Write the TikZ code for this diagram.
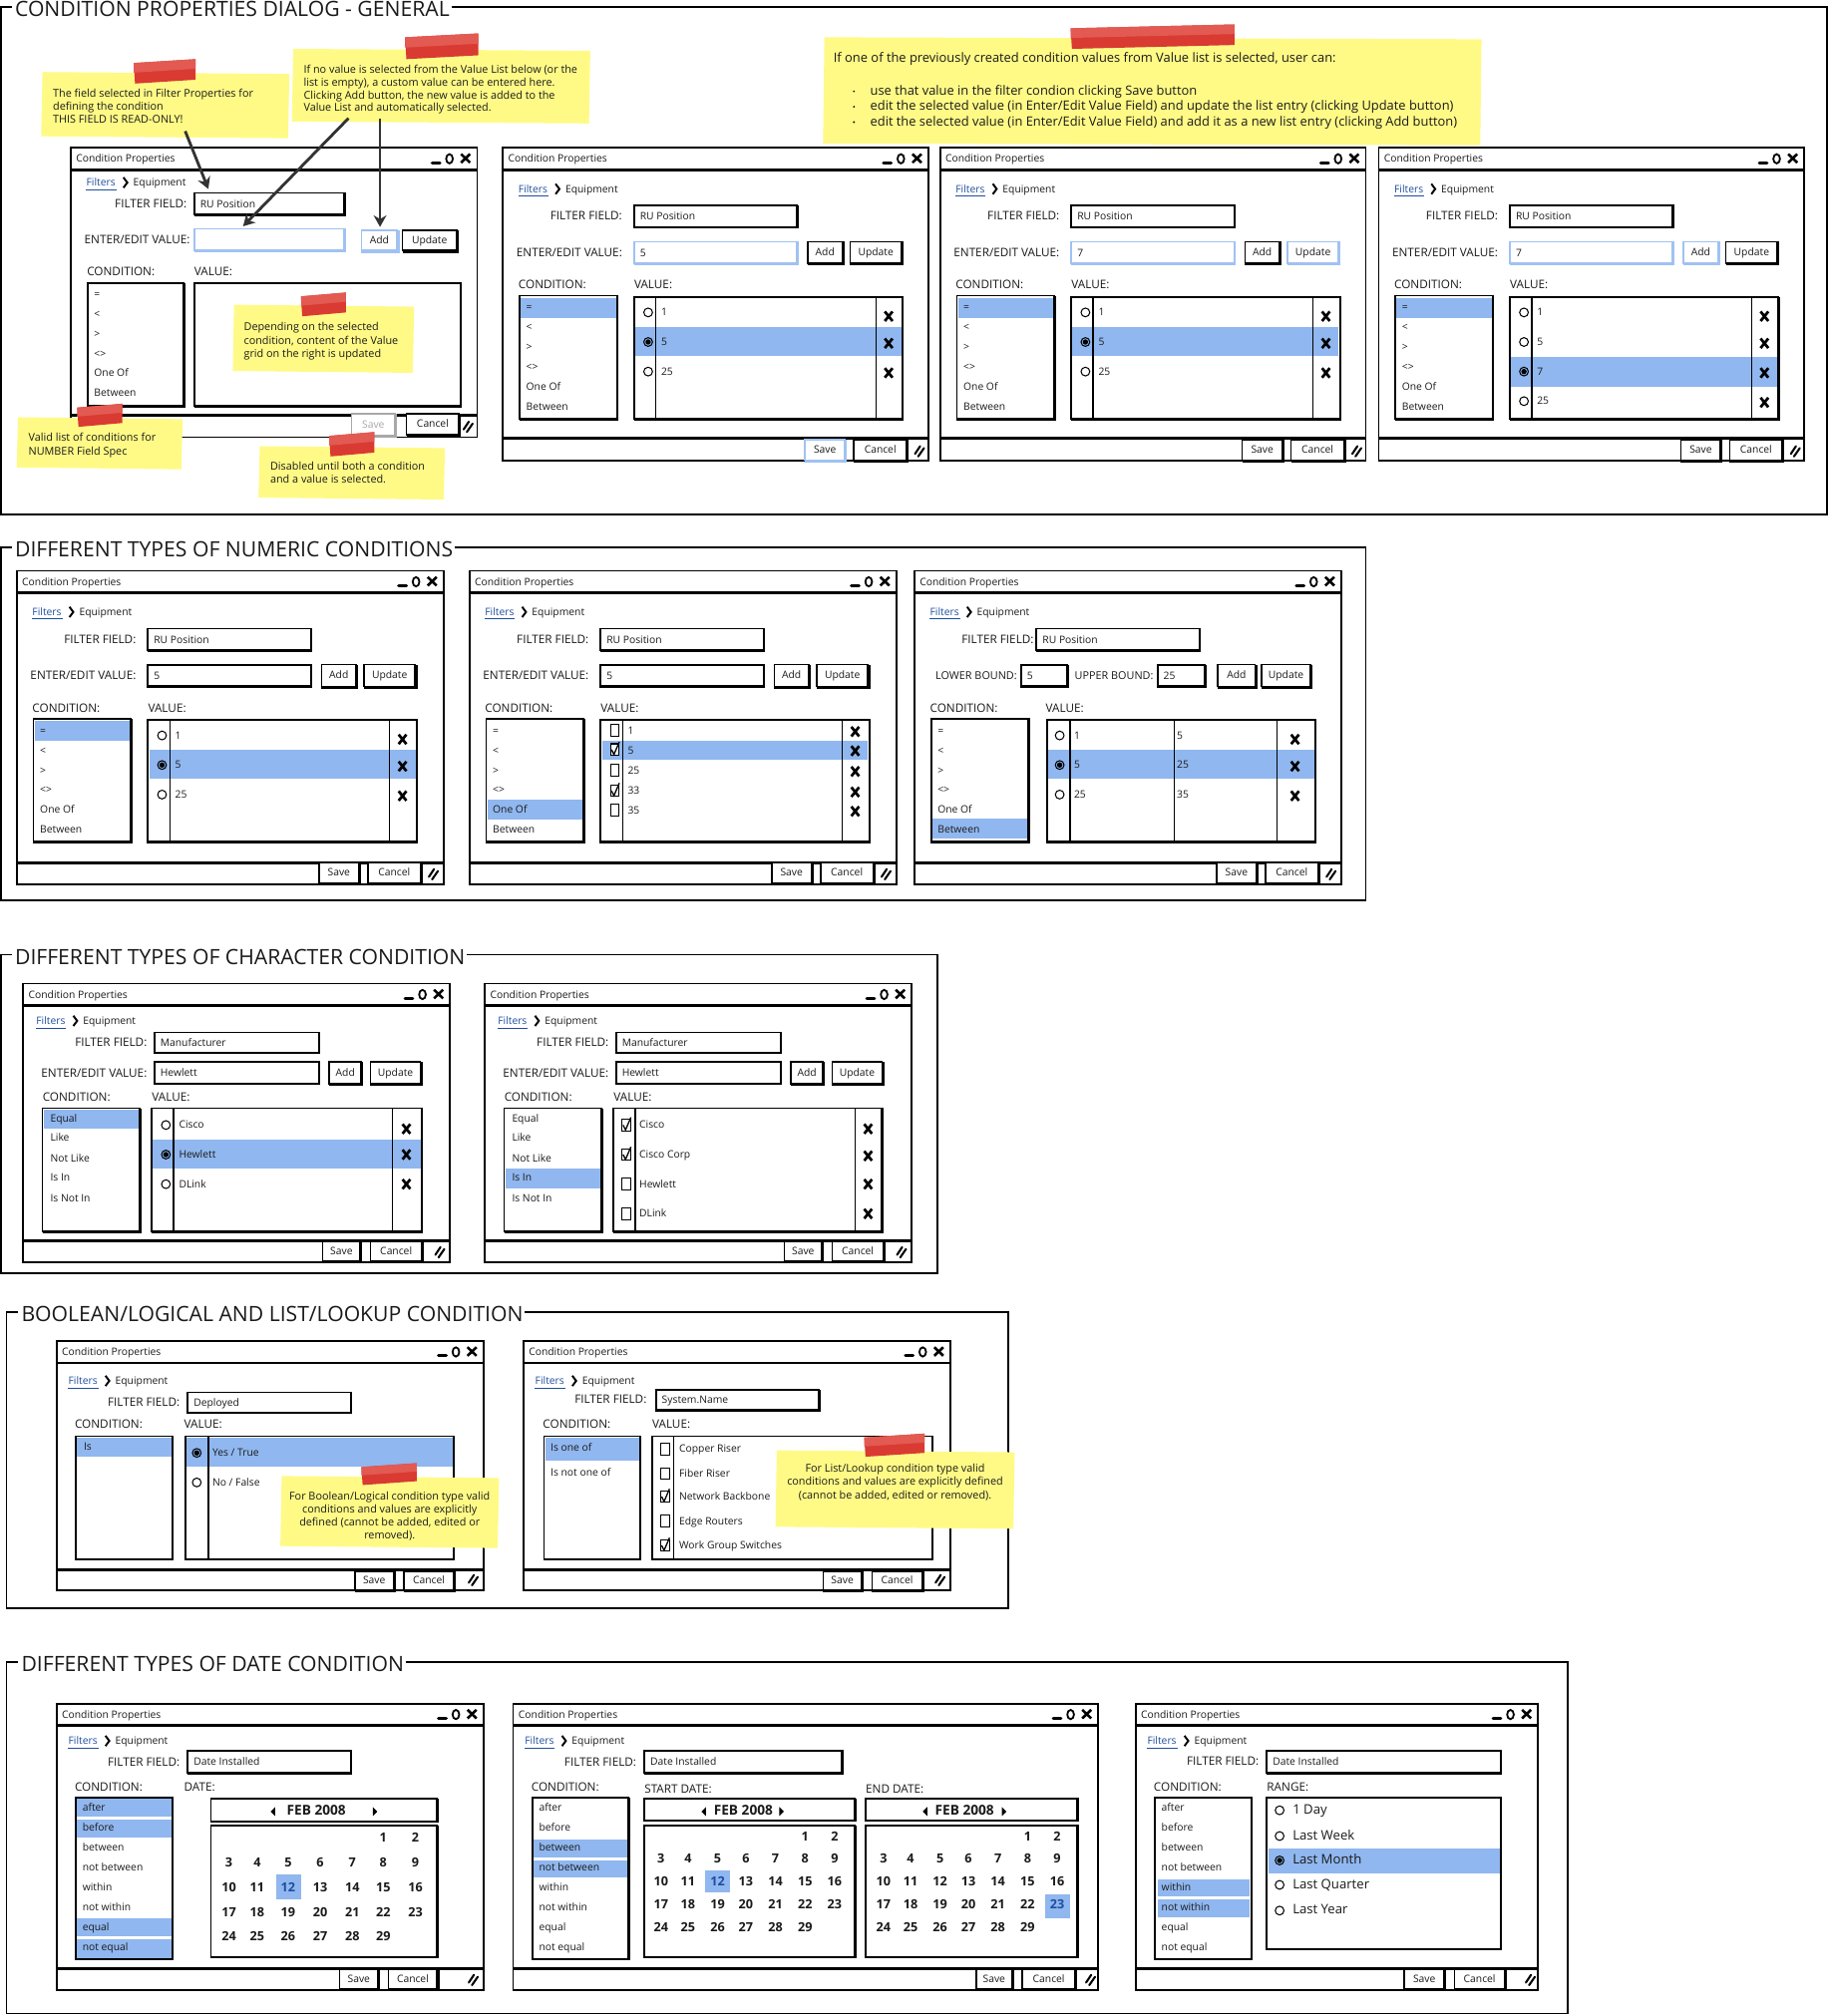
\documentclass[tikz,border=0pt]{standalone}
\usepackage{fontspec}
\setmainfont{Open Sans}
\usetikzlibrary{arrows.meta}
\definecolor{selc}{HTML}{90B7EF}
\definecolor{bluec}{HTML}{A0C2F2}
\definecolor{linkc}{HTML}{1F4E9E}
\definecolor{notec}{HTML}{FFFA86}
\definecolor{tapea}{HTML}{D93A32}
\definecolor{tapeb}{HTML}{E25A52}
\definecolor{inkc}{HTML}{1A1A1A}
\definecolor{arrowc}{HTML}{333333}
\definecolor{grayc}{HTML}{A8A8A8}
\newcommand\fa{\fontsize{8}{9}\selectfont}
\newcommand\fb{\fontsize{9.1}{10}\selectfont}
\newcommand\fc{\fontsize{8.4}{9}\selectfont}
\newcommand\fd{\fontsize{9.8}{10}\selectfont\bfseries}
\newcommand\fh{\fontsize{10.6}{11}\selectfont\bfseries}
\newcommand\fe{\fontsize{10.2}{11}\selectfont}
\newcommand\ff{\fontsize{16.4}{17}\selectfont}
\newcommand\fg{\fontsize{10}{11}\selectfont}
\newcommand\fj{\fontsize{8.4}{9}\selectfont}
\newcount\nn
\tikzset{
  lbl/.style={inner sep=0pt,anchor=west,font=\fa,text=inkc,text height=5.4pt,text depth=1.4pt,yshift=-.8pt},
  ln/.style={draw=black,line width=1.35pt},
  shot/.style={draw=black,line width=2.1pt},
  arr/.style={draw=arrowc,line width=2.2pt,-{Stealth[length=9pt,width=10pt]}}
}
\newcommand{\txt}[4][]{\global\advance\nn by 1 \node[lbl,#1] (t\the\nn) at (#2,#3) {#4};}
\newcommand{\band}[4]{\fill[selc] (#1,#2) rectangle (#3,#4);}
\newcommand{\dlgframe}[5]{\begin{scope}[shift={(#1,#2)}]
  \fill[white] (0,0) rectangle (#3,#4);
  \draw[ln] (0,0) rectangle (#3,#4);
  \draw[shot] (0,17) -- (#3,17);
  \draw[shot] (0,#5) -- (#3,#5);
  \txt{4}{8.5}{Condition Properties}
  \draw[black,line width=2.4pt,line cap=round] (#3-35,11.5) -- (#3-29,11.5);
  \draw[black,line width=1.4pt] (#3-21.5,8.5) ellipse (2.6 and 3.6);
  \draw[black,line width=2pt] (#3-12.5,4.8) -- (#3-5.5,11.5) (#3-12.5,11.5) -- (#3-5.5,4.8);
 \end{scope}}
\newcommand{\crumb}[2]{
  \txt[text=linkc]{#1}{#2}{Filters}
  \draw[linkc,line width=.7pt] (#1,#2+5.5) -- (#1+23.5,#2+5.5);
  \draw[black,line width=1.5pt] (#1+29,#2-4) -- (#1+32,#2) -- (#1+29,#2+4);
  \txt{#1+36.5}{#2}{Equipment}}
\newcommand{\flabel}[3]{\txt[anchor=east,font=\fb]{#1}{#2}{#3}}
\newcommand{\clabel}[3]{\txt[font=\fb]{#1}{#2}{#3}}
\newcommand{\ffield}[6][black]{\fill[white] (#2,#3) rectangle (#4,#5);
  \draw[#1,line width=1.4pt] (#2,#3) rectangle (#4,#5);
  \draw[#1,line width=1.9pt] (#2,#5) -- (#4,#5) -- (#4,#3);
  \txt{#2+4.5}{#3/2+#5/2}{#6}}
\newcommand{\btn}[6][black]{\fill[white] (#2,#3) rectangle (#4,#5);
  \draw[#1,line width=1.2pt] (#2,#3) rectangle (#4,#5);
  \draw[#1,line width=2.4pt] (#2,#5+.4) -- (#4+.4,#5+.4) -- (#4+.4,#3);
  \txt[anchor=center,text=\btntext]{#2/2+#4/2}{#3/2+#5/2-.5}{#6}}
\def\btntext{inkc}
\newcommand{\lbox}[4]{\draw[ln] (#1,#2) rectangle (#3,#4); \draw[black,line width=1.8pt] (#1,#4) -- (#3,#4) -- (#3,#2);}
\newcommand{\rad}[2]{\draw[black,line width=.8pt] (#1,#2) circle (3.4);}
\newcommand{\radon}[2]{\draw[black,line width=.8pt] (#1,#2) circle (3.4); \fill[black] (#1,#2) circle (2.1);}
\newcommand{\ck}[2]{\draw[black,line width=.8pt,fill=white] (#1-3.4,#2-4.5) rectangle (#1+3.4,#2+4.5);}
\newcommand{\ckon}[2]{\ck{#1}{#2}\draw[black,line width=1pt] (#1-2.5,#2) -- (#1-.6,#2+3.8) -- (#1+3.6,#2-6);}
\newcommand{\xm}[2]{\draw[black,line width=2.1pt] (#1-3,#2-3.7) -- (#1+3,#2+3.7) (#1-3,#2+3.7) -- (#1+3,#2-3.7);}
\newcommand{\grip}[2]{\draw[black,line width=1.6pt,line cap=round] (#1-3.5,#2+2) -- (#1+.5,#2-4) (#1-1,#2+4) -- (#1+3.5,#2-2.5);}
\newcommand{\note}[4]{\fill[notec] (#1+1,#2) -- (#3,#2+1.5) -- (#3-1,#4) -- (#1,#4-1.5) -- cycle;}
\newcommand{\tapep}[4]{\fill[tapea] (#1,#2+3) -- (#3,#2) -- (#3,#4-3) -- (#1+1,#4) -- cycle;
  \fill[tapeb] (#1,#2+3) -- (#3,#2) -- (#3,#2/2+#4/2-2) -- (#1,#2/2+#4/2+1) -- cycle;}
\newcommand{\sect}[6]{\draw[ln] (#1,#2) rectangle (#3,#4);
  \global\advance\nn by 1
  \fill[white] (#5-1,#2-2) rectangle (#5+1,#2+2);
  \node[inner sep=1.5pt,anchor=west,fill=white,font=\ff,text=inkc,yshift=-1.6pt] (s\the\nn) at (#5,#2) {#6};}
% standard top part in local coordinates; args: field, value, field style, add style, update style, save style
\newcommand{\stdtop}[6]{
  \crumb{12}{32}
  \flabel{93}{53.5}{FILTER FIELD:}
  \ffield{102}{45}{229}{62}{#1}
  \flabel{93}{82}{ENTER/EDIT VALUE:}
  \ffield[#3]{102}{73}{229}{90}{#2}
  \btn[#4]{237}{73}{264}{90}{Add}
  \btn[#5]{270}{73}{310}{90}{Update}
  \clabel{12}{107}{CONDITION:}
  \clabel{102}{107}{VALUE:}
  \btn[#6]{235}{227}{266}{243}{Save}
  \btn{273}{227}{314}{243}{Cancel}
  \grip{324}{236}}
\newcommand{\numlist}[1]{
  \fill[white] (13,115) rectangle (89,211);
  \ifnum#1>-1 \band{14}{{116.5+15.3*#1}}{88}{{132+15.3*#1}}\fi
  \lbox{13}{115}{89}{211}
  \txt{18}{124}{=}\txt{18}{139.5}{<}\txt{18}{155}{>}\txt{18}{170}{<>}\txt{18}{185.5}{One Of}\txt{18}{201}{Between}}
\newcommand{\stdgrid}{\lbox{102}{116}{311}{211}
  \draw[black,line width=1pt] (119,116) -- (119,211) (290,116) -- (290,211);}
\newcommand{\caldays}[3]{%
 \foreach \d in {1,...,29}{%
  \pgfmathtruncatemacro\ci{mod(\d+4,7)}%
  \pgfmathtruncatemacro\ri{int((\d+4)/7)}%
  \pgfmathsetmacro\px{{#1}[\ci]}%
  \pgfmathsetmacro\py{{#2}[\ri]}%
  \ifnum\d=#3\relax \txt[anchor=center,font=\fd,text=linkc]{\px}{\py}{\d}%
  \else \txt[anchor=center,font=\fd]{\px}{\py}{\d}\fi}}
\newcommand{\tril}[2]{\fill[black] (#1,#2-3.5) -- (#1,#2+3.5) -- (#1-3.5,#2) -- cycle;}
\newcommand{\trir}[2]{\fill[black] (#1,#2-3.5) -- (#1,#2+3.5) -- (#1+3.5,#2) -- cycle;}
\newcommand{\datelist}{
  \txt{0}{0}{after}\txt{0}{15.5}{before}\txt{0}{31}{between}\txt{0}{46.5}{not between}
  \txt{0}{62}{within}\txt{0}{77.5}{not within}\txt{0}{93}{equal}\txt{0}{108.5}{not equal}}
\begin{document}
\begin{tikzpicture}[x=1pt,y=-1pt]
\useasboundingbox (0,0) rectangle (1422,1568);
\fill[white] (0,0) rectangle (1422,1568);
%%%%% SECTION 1
\sect{1}{5.5}{1420.5}{400}{10}{CONDITION PROPERTIES DIALOG - GENERAL}
% D1
\dlgframe{55}{115}{316}{225}{208}
\crumb{67}{142}
\flabel{145.5}{159}{FILTER FIELD:}
\ffield{151}{150}{268}{167}{RU Position}
\flabel{148}{187}{ENTER/EDIT VALUE:}
\ffield[bluec]{151}{178}{268}{195}{}
\btn[bluec]{281}{179}{309}{195}{Add}
\btn{313}{179}{355}{195}{Update}
\clabel{67.5}{212}{CONDITION:}
\clabel{151}{212}{VALUE:}
\lbox{68}{220}{143}{316}
\lbox{151}{220}{358.5}{316}
\txt{73}{229}{=}\txt{73}{244}{<}\txt{73}{259.5}{>}\txt{73}{275}{<>}\txt{73}{290}{One Of}\txt{73}{305.5}{Between}
{\def\btntext{grayc}\btn[grayc]{273.5}{322}{307}{339}{Save}}
\btn{316}{322}{357}{338}{Cancel}
\grip{364}{332}
% D2
\begin{scope}[shift={(391,115)}]
\dlgframe{0}{0}{331}{243}{226}
\stdtop{RU Position}{5}{bluec}{black}{black}{bluec}
\numlist{0}
\band{103}{139}{310}{162}
\stdgrid
\rad{113}{128}\txt{123}{128}{1}
\radon{113}{151}\txt{123}{151}{5}
\rad{113}{174}\txt{123}{174}{25}
\xm{300}{131}\xm{300}{152}\xm{300}{175}
\end{scope}
% D3
\begin{scope}[shift={(731,115)}]
\dlgframe{0}{0}{331}{243}{226}
\stdtop{RU Position}{7}{bluec}{black}{bluec}{black}
\numlist{0}
\band{103}{139}{310}{162}
\stdgrid
\rad{113}{128}\txt{123}{128}{1}
\radon{113}{151}\txt{123}{151}{5}
\rad{113}{174}\txt{123}{174}{25}
\xm{300}{131}\xm{300}{152}\xm{300}{175}
\end{scope}
% D4
\begin{scope}[shift={(1072,115)}]
\dlgframe{0}{0}{331}{243}{226}
\stdtop{RU Position}{7}{bluec}{bluec}{black}{black}
\numlist{0}
\band{103}{162.5}{310}{186}
\stdgrid
\rad{113}{128}\txt{123}{128}{1}
\rad{113}{151}\txt{123}{151}{5}
\radon{113}{174}\txt{123}{174}{7}
\rad{113}{197}\txt{123}{197}{25}
\xm{300}{131}\xm{300}{152}\xm{300}{175}\xm{300}{198}
\end{scope}
% notes section 1
\note{32}{56}{225}{107.5}\tapep{104}{46}{152}{65}
\txt[font=\fc]{41}{73}{The field selected in Filter Properties for}
\txt[font=\fc]{41}{83}{defining the condition}
\txt[font=\fc]{41}{93}{THIS FIELD IS READ-ONLY!}
\note{227}{38}{459}{96}\tapep{315}{26}{372}{46}
\txt[font=\fc]{236}{54}{If no value is selected from the Value List below (or the}
\txt[font=\fc]{236}{64}{list is empty), a custom value can be entered here.}
\txt[font=\fc]{236}{74}{Clicking Add button, the new value is added to the}
\txt[font=\fc]{236}{84}{Value List and automatically selected.}
\note{181}{237}{322}{290}\tapep{234}{227.5}{269}{246}
\txt[font=\fc]{189.5}{254.5}{Depending on the selected}
\txt[font=\fc]{189.5}{265}{condition, content of the Value}
\txt[font=\fc]{189.5}{275}{grid on the right is updated}
\note{13}{324.5}{142}{365}\tapep{60}{314}{95}{332}
\txt[font=\fc]{22}{340.5}{Valid list of conditions for}
\txt[font=\fc]{22}{351}{NUMBER Field Spec}
\note{201}{347}{346}{388.5}\tapep{256}{336}{291}{355}
\txt[font=\fc]{210}{363}{Disabled until both a condition}
\txt[font=\fc]{210}{373}{and a value is selected.}
\note{640}{29}{1152}{113}\tapep{832.5}{19}{960}{38}
\txt[font=\fg]{648}{46}{If one of the previously created condition values from Value list is selected, user can:}
\fill[inkc] (664,71) circle (.8) (664,83) circle (.8) (664,95) circle (.8);
\txt[font=\fg]{676.5}{71}{use that value in the filter condion clicking Save button}
\txt[font=\fg]{676.5}{83}{edit the selected value (in Enter/Edit Value Field) and update the list entry (clicking Update button)}
\txt[font=\fg]{676.5}{95}{edit the selected value (in Enter/Edit Value Field) and add it as a new list entry (clicking Add button)}
\coordinate (a1s) at (144,102);\coordinate (a1e) at (162,147);
\coordinate (a2s) at (271,92);\coordinate (a2e) at (189,176);
\coordinate (a3s) at (295.5,92);\coordinate (a3e) at (295.5,176.5);
\draw[arr] (a1s) -- (a1e);
\draw[arr] (a2s) -- (a2e);
\draw[arr] (a3s) -- (a3e);
%%%%% SECTION 2
\sect{1}{425.5}{1062}{700}{10}{DIFFERENT TYPES OF NUMERIC CONDITIONS}
\begin{scope}[shift={(13,444)}]
\dlgframe{0}{0}{332}{244}{227}
\stdtop{RU Position}{5}{black}{black}{black}{black}
\numlist{0}
\band{103}{139}{310}{162}
\stdgrid
\rad{113}{128}\txt{123}{128}{1}
\radon{113}{151}\txt{123}{151}{5}
\rad{113}{174}\txt{123}{174}{25}
\xm{300}{131}\xm{300}{152}\xm{300}{175}
\end{scope}
\begin{scope}[shift={(365,444)}]
\dlgframe{0}{0}{332}{244}{227}
\stdtop{RU Position}{5}{black}{black}{black}{black}
\numlist{4}
\band{103}{132}{310}{147}
\stdgrid
\ck{113}{124}\txt{123}{124}{1}
\ckon{113}{139}\txt{123}{139.5}{5}
\ck{113}{155}\txt{123}{155}{25}
\ckon{113}{171}\txt{123}{171}{33}
\ck{113}{186}\txt{123}{186}{35}
\xm{300}{125}\xm{300}{140}\xm{300}{156}\xm{300}{172}\xm{300}{187}
\end{scope}
\begin{scope}[shift={(711,444)}]
\dlgframe{0}{0}{332}{244}{227}
\crumb{12}{32}
\flabel{93}{53.5}{FILTER FIELD:}
\ffield{95}{45}{222}{62}{RU Position}
\txt[anchor=east,font=\fj]{80}{82}{LOWER BOUND:}
\ffield{83}{73}{119}{90}{5}
\txt[anchor=east,font=\fj]{186}{82}{UPPER BOUND:}
\ffield{189}{73}{226}{90}{25}
\btn{236}{73}{265}{90}{Add}
\btn{270}{73}{308}{90}{Update}
\clabel{12}{107}{CONDITION:}
\clabel{102}{107}{VALUE:}
\btn{235}{227}{266}{243}{Save}
\btn{273}{227}{314}{243}{Cancel}
\grip{324}{236}
\numlist{5}
\band{103}{139}{311}{162}
\lbox{103}{116}{312}{211}
\draw[black,line width=1pt] (121,116) -- (121,211) (202,116) -- (202,211) (282,116) -- (282,211);
\rad{113}{128}\txt{124}{128}{1}\txt{204}{128}{5}
\radon{113}{151}\txt{124}{151}{5}\txt{204}{151}{25}
\rad{113}{174}\txt{124}{174}{25}\txt{204}{174}{35}
\xm{296}{131}\xm{296}{152}\xm{296}{175}
\end{scope}
%%%%% SECTION 3
\sect{1}{742.5}{729}{990}{10}{DIFFERENT TYPES OF CHARACTER CONDITION}
\dlgframe{18}{765}{332}{217}{200}
\crumb{28}{794}
\flabel{114.5}{811}{FILTER FIELD:}
\ffield{120}{803}{248}{819}{Manufacturer}
\flabel{114.5}{835}{ENTER/EDIT VALUE:}
\ffield{120}{826}{248}{843}{Hewlett}
\btn{256}{826}{281}{843}{Add}
\btn{288}{826}{327}{843}{Update}
\clabel{33}{854}{CONDITION:}
\clabel{118}{854}{VALUE:}
\band{34}{863}{108}{878}
\lbox{33}{862}{109}{958}
\txt{39}{870}{Equal}\txt{39}{885}{Like}\txt{39}{901}{Not Like}\txt{39}{916}{Is In}\txt{39}{932}{Is Not In}
\band{119}{886}{327}{909}
\lbox{118}{862}{328}{958}
\draw[black,line width=1pt] (135,862) -- (135,958) (305,862) -- (305,958);
\rad{129}{875}\txt{139}{875}{Cisco}
\radon{129}{898}\txt{139}{898}{Hewlett}
\rad{129}{921}\txt{139}{921}{DLink}
\xm{316}{878}\xm{316}{898}\xm{316}{921}
\btn{251}{966}{280}{981}{Save}
\btn{288}{966}{328}{981}{Cancel}
\grip{342}{974}
\dlgframe{377}{765}{332}{217}{200}
\crumb{387}{794}
\flabel{473.5}{811}{FILTER FIELD:}
\ffield{479}{803}{607}{819}{Manufacturer}
\flabel{473.5}{835}{ENTER/EDIT VALUE:}
\ffield{479}{826}{607}{843}{Hewlett}
\btn{615}{826}{640}{843}{Add}
\btn{647}{826}{686}{843}{Update}
\clabel{392}{854}{CONDITION:}
\clabel{477}{854}{VALUE:}
\band{393}{909}{467}{924}
\lbox{392}{862}{468}{958}
\txt{398}{870}{Equal}\txt{398}{885}{Like}\txt{398}{901}{Not Like}\txt{398}{916}{Is In}\txt{398}{932}{Is Not In}
\lbox{477}{862}{686}{958}
\draw[black,line width=1pt] (494,862) -- (494,958) (665,862) -- (665,958);
\ckon{487}{875}\txt{497}{875}{Cisco}
\ckon{487}{898}\txt{497}{898}{Cisco Corp}
\ck{487}{921}\txt{497}{921}{Hewlett}
\ck{487}{944}\txt{497}{944}{DLink}
\xm{675}{878}\xm{675}{899}\xm{675}{921}\xm{675}{944}
\btn{610}{966}{639}{981}{Save}
\btn{647}{966}{687}{981}{Cancel}
\grip{701}{974}
%%%%% SECTION 4
\sect{5}{1020.5}{784}{1251}{15}{BOOLEAN/LOGICAL AND LIST/LOOKUP CONDITION}
\dlgframe{44}{1043}{332}{194}{178}
\crumb{53}{1074}
\flabel{140}{1091}{FILTER FIELD:}
\ffield{146}{1083}{273}{1099}{Deployed}
\clabel{58}{1108}{CONDITION:}
\clabel{143}{1108}{VALUE:}
\band{60}{1118}{133}{1133}
\lbox{59}{1117}{134}{1213}
\txt{65}{1125}{Is}
\band{145}{1118}{352}{1141}
\lbox{144}{1117}{353}{1213}
\draw[black,line width=1pt] (162,1117) -- (162,1213);
\radon{153}{1130}\txt{165}{1130}{Yes / True}
\rad{153}{1153}\txt{165}{1153}{No / False}
\btn{276}{1222}{306}{1237}{Save}
\btn{314}{1222}{353}{1237}{Cancel}
\grip{368}{1229}
\note{218}{1148}{388}{1204}\tapep{281}{1138}{324}{1155}
\txt[anchor=center,font=\fc]{303}{1164}{For Boolean/Logical condition type valid}
\txt[anchor=center,font=\fc]{303}{1174}{conditions and values are explicitly}
\txt[anchor=center,font=\fc]{303}{1184}{defined (cannot be added, edited or}
\txt[anchor=center,font=\fc]{303}{1194}{removed).}
\dlgframe{407}{1043}{332}{194}{178}
\crumb{416}{1074}
\flabel{503}{1089}{FILTER FIELD:}
\ffield{510}{1081}{637}{1097}{System.Name}
\clabel{422}{1108}{CONDITION:}
\clabel{507}{1108}{VALUE:}
\band{424}{1118}{497}{1136}
\lbox{423}{1117}{498}{1213}
\txt{428}{1126}{Is one of}\txt{428}{1145}{Is not one of}
\lbox{507}{1117}{725}{1213}
\draw[black,line width=1pt] (524,1117) -- (524,1213);
\ck{517}{1127}\txt{528}{1127}{Copper Riser}
\ck{517}{1146}\txt{528}{1146}{Fiber Riser}
\ckon{517}{1164}\txt{528}{1164}{Network Backbone}
\ck{517}{1183}\txt{528}{1183}{Edge Routers}
\ckon{517}{1202}\txt{528}{1202}{Work Group Switches}
\btn{640}{1222}{670}{1237}{Save}
\btn{678}{1222}{717}{1237}{Cancel}
\grip{731}{1229}
\note{603}{1128}{789}{1189}\tapep{672}{1115}{719}{1133}
\txt[anchor=center,font=\fc]{696}{1142}{For List/Lookup condition type valid}
\txt[anchor=center,font=\fc]{696}{1152}{conditions and values are explicitly defined}
\txt[anchor=center,font=\fc]{696}{1163}{(cannot be added, edited or removed).}
%%%%% SECTION 5
\sect{5}{1292.5}{1219}{1566}{15}{DIFFERENT TYPES OF DATE CONDITION}
\dlgframe{44}{1325}{332}{223}{206}
\crumb{53}{1354}
\flabel{140}{1371}{FILTER FIELD:}
\ffield{146}{1362}{273}{1379}{Date Installed}
\clabel{58}{1390}{CONDITION:}
\clabel{143}{1390}{DATE:}
\band{60}{1399}{133}{1413}\band{60}{1415}{133}{1429}\band{60}{1492}{133}{1506}\band{60}{1508}{133}{1523}
\lbox{59}{1398}{134}{1524}
\begin{scope}[shift={(64,1406)}]\datelist\end{scope}
\band{215}{1458}{234}{1477}
\lbox{164}{1399}{340}{1417}\lbox{164}{1420}{340}{1522}
\txt[anchor=center,font=\fh]{246}{1409}{FEB 2008}
\tril{214}{1409}\trir{290}{1409}
\caldays{178,200,224,249,274,298,323}{1430,1449,1469,1488,1507}{12}
\btn{264}{1532}{294}{1547}{Save}
\btn{302}{1532}{340}{1547}{Cancel}
\grip{368}{1540}
\dlgframe{399}{1325}{455}{223}{206}
\crumb{408}{1354}
\flabel{495}{1371}{FILTER FIELD:}
\ffield{501}{1362}{655}{1379}{Date Installed}
\clabel{413}{1390}{CONDITION:}
\clabel{501}{1392}{START DATE:}
\clabel{673}{1392}{END DATE:}
\band{415}{1431}{488}{1445}\band{415}{1447}{488}{1460}
\lbox{414}{1398}{489}{1524}
\begin{scope}[shift={(419,1406)}]\datelist\end{scope}
\band{548}{1455}{568}{1472}
\lbox{501}{1399}{665}{1416}\lbox{501}{1420}{665}{1522}
\txt[anchor=center,font=\fh]{578}{1409}{FEB 2008}
\tril{549}{1409}\trir{606}{1409}
\caldays{514,535,558,580,603,626,649}{1429,1446,1464,1482,1500}{12}
\band{813}{1473}{832}{1492}
\lbox{673}{1399}{838}{1416}\lbox{673}{1420}{838}{1522}
\txt[anchor=center,font=\fh]{750}{1409}{FEB 2008}
\tril{721}{1409}\trir{779}{1409}
\caldays{687,708,731,753,776,799,822}{1429,1446,1464,1482,1500}{23}
\btn{759}{1532}{787}{1547}{Save}
\btn{795}{1532}{836}{1547}{Cancel}
\grip{848}{1540}
\dlgframe{883}{1325}{313}{223}{206}
\crumb{892}{1354}
\flabel{979}{1370}{FILTER FIELD:}
\ffield{985}{1362}{1167}{1379}{Date Installed}
\clabel{897}{1390}{CONDITION:}
\clabel{985}{1390}{RANGE:}
\band{900}{1462}{972}{1475}\band{900}{1477}{972}{1491}
\lbox{898}{1398}{973}{1524}
\begin{scope}[shift={(903,1406)}]\datelist\end{scope}
\band{986}{1438}{1166}{1457}
\lbox{985}{1398}{1167}{1516}
\rad{995}{1408}\txt[font=\fe]{1005}{1408}{1 Day}
\rad{995}{1428}\txt[font=\fe]{1005}{1428}{Last Week}
\radon{995}{1447}\txt[font=\fe]{1005}{1447}{Last Month}
\rad{995}{1466}\txt[font=\fe]{1005}{1466}{Last Quarter}
\rad{995}{1486}\txt[font=\fe]{1005}{1486}{Last Year}
\btn{1092}{1532}{1123}{1547}{Save}
\btn{1131}{1532}{1170}{1547}{Cancel}
\grip{1190}{1540}
\end{tikzpicture}
\end{document}
